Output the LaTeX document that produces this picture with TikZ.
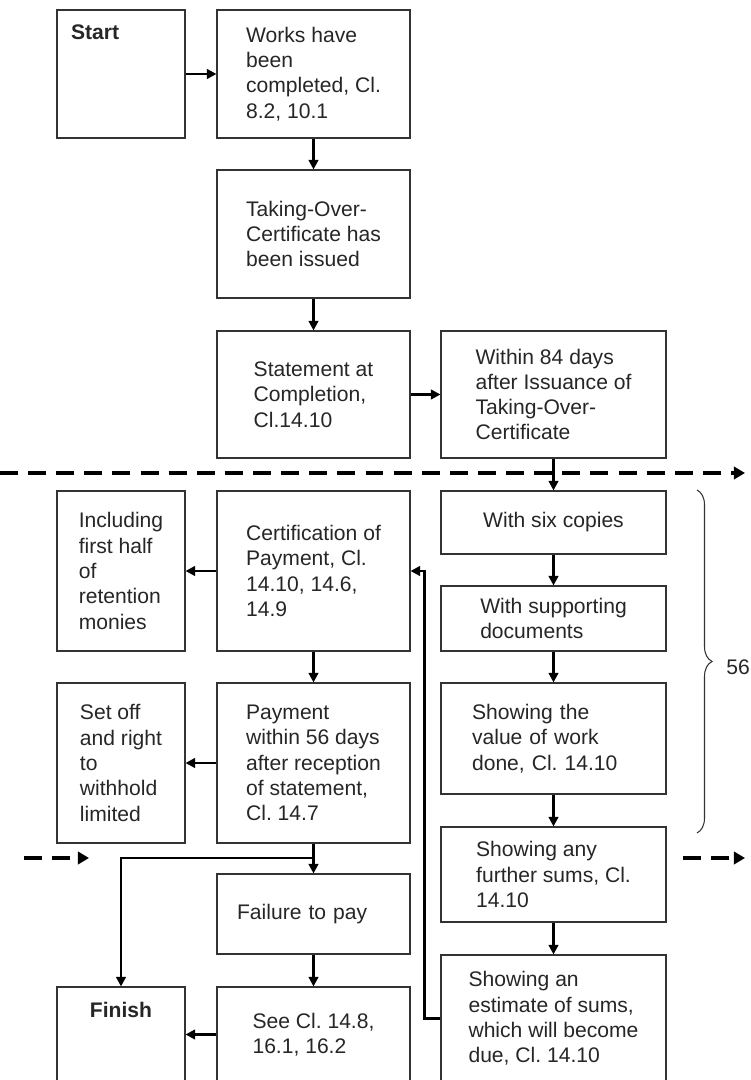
\documentclass[tikz,border=0pt]{standalone}
\usepackage{fontspec}
\setmainfont{Liberation Sans}
\usetikzlibrary{arrows.meta,decorations.pathreplacing}
\frenchspacing

\begin{document}
\begin{tikzpicture}[
    font=\fontsize{12}{14.4}\selectfont,
    box/.style={draw=black!80,line width=0.6pt,text=black!85,align=left},
    flow/.style={draw,line width=1.3pt,-{Triangle[length=5.4pt,width=5.4pt]}},
    cut/.style={draw,line width=2.7pt,dash pattern=on 10.2pt off 5.8pt,-{Triangle[length=6.3pt,width=7pt]}}
  ]

      \clip (0,0) rectangle (15.02,21.6);

      \begin{scope}[every node/.style={box}]
        \node[minimum width=2.56cm,minimum height=2.56cm,
          label={[draw=none,inner sep=0pt,anchor=north west,xshift=0.28cm,yshift=-0.3cm]north west:\textbf{Start}}]
          (start) at (2.42,20.12) {};
        \node[minimum width=3.86cm,minimum height=2.56cm] (works) at (6.27,20.12)
          {Works have\\been\\completed, Cl.\\8.2, 10.1};
        \node[minimum width=3.86cm,minimum height=2.56cm] (taking) at (6.27,16.92)
          {Taking-Over-\\Certificate has\\been issued};
        \node[minimum width=3.86cm,minimum height=2.54cm] (statement) at (6.27,13.71)
          {Statement at\\Completion,\\Cl.14.10};
        \node[minimum width=4.5cm,minimum height=2.54cm] (within) at (11.07,13.71)
          {Within 84 days\\after Issuance of\\Taking-Over-\\Certificate};

        \node[minimum width=2.56cm,minimum height=3.2cm] (including) at (2.42,10.18)
          {Including\\first half\\of\\retention\\monies};
        \node[minimum width=3.86cm,minimum height=3.2cm] (cert) at (6.27,10.18)
          {Certification of\\Payment, Cl.\\14.10, 14.6,\\14.9};
        \node[minimum width=4.5cm,minimum height=1.26cm] (sixcopies) at (11.07,11.15)
          {With six copies};
        \node[minimum width=4.5cm,minimum height=1.3cm] (supporting) at (11.07,9.23)
          {With supporting\\documents};

        \node[minimum width=2.56cm,minimum height=3.2cm] (setoff) at (2.42,6.34)
          {Set off\\and right\\to\\withhold\\limited};
        \node[minimum width=3.86cm,minimum height=3.2cm] (payment) at (6.27,6.34)
          {Payment\\within 56 days\\after reception\\of statement,\\Cl. 14.7};
        \node[minimum width=4.5cm,minimum height=2.22cm,text width=92.7pt] (value) at (11.07,6.83)
          {Showing the\\value of work\\done, Cl. 14.10};
        \node[minimum width=4.5cm,minimum height=1.9cm] (further) at (11.07,4.11)
          {Showing any\\further sums, Cl.\\14.10};
        \node[minimum width=3.86cm,minimum height=1.6cm,text width=87pt] (failure) at (6.27,3.32)
          {Failure to pay};

        \node[minimum width=2.56cm,minimum height=1.9cm,
          label={[draw=none,inner sep=0pt,anchor=north,yshift=-0.3cm]north:\textbf{Finish}}]
          (finish) at (2.42,0.91) {};
        \node[minimum width=3.86cm,minimum height=1.9cm] (see) at (6.27,0.91)
          {See Cl. 14.8,\\16.1, 16.2};
        \node[minimum width=4.5cm,minimum height=2.54cm] (estimate) at (11.07,1.23)
          {Showing an\\estimate of sums,\\which will become\\due, Cl. 14.10};
      \end{scope}

      \coordinate (split) at (6.27,4.44);
      \coordinate (loop) at (8.49,1.23);

      \begin{scope}[every edge/.style={flow}]
        \path (start) edge (works);
        \path (works) edge (taking);
        \path (taking) edge (statement);
        \path (statement) edge (within);
        \path (within) edge (sixcopies);
        \path (sixcopies) edge (supporting);
        \path (supporting) edge (value);
        \path (value) edge (further);
        \path (further) edge (estimate);
        \path (cert) edge (including);
        \path (cert) edge (payment);
        \path (payment) edge (setoff);
        \path (payment) edge (failure);
        \path (failure) edge (see);
        \path (see) edge (finish);
      \end{scope}

      \draw[flow] (split) -| (finish);
      \draw[flow] (estimate) -- (loop) |- (cert);

      \coordinate (cutL) at (0,12.14);
      \coordinate (cutR) at (14.9,12.14);
      \coordinate (gapL1) at (0.48,4.44);
      \coordinate (gapL2) at (1.78,4.44);
      \coordinate (gapR1) at (13.66,4.44);
      \coordinate (gapR2) at (14.9,4.44);

      \begin{scope}[every edge/.style={cut}]
        \path (cutL) edge (cutR);
        \path (gapL1) edge (gapL2);
        \path (gapR1) edge (gapR2);
      \end{scope}

      \coordinate (braceTop) at (13.94,11.8);
      \coordinate (braceBot) at (13.94,4.94);
      \draw[decorate,decoration={brace,amplitude=0.3cm},line width=0.6pt,black!80] (braceTop) -- (braceBot);
      \node[text=black!85] (days) at (14.76,8.26) {56};

    \end{tikzpicture}
\end{document}
